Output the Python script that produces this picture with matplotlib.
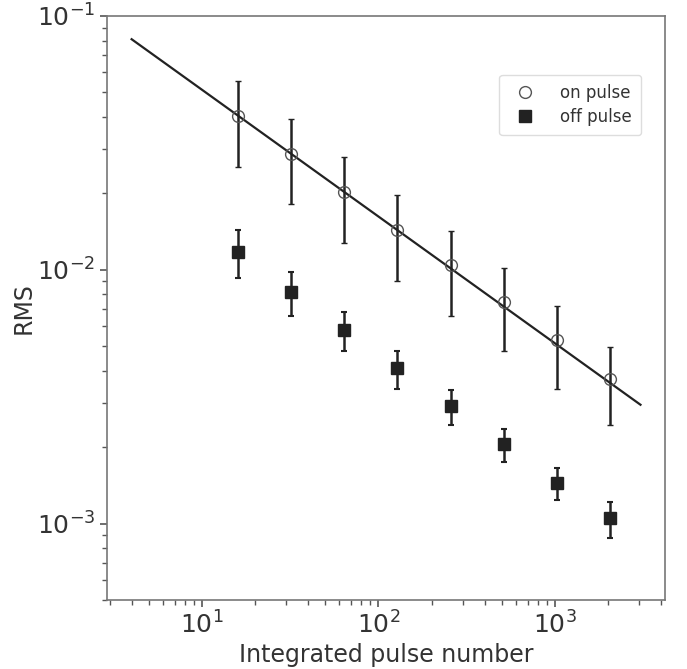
import numpy as np
import matplotlib.pyplot as plt

# integrated pulse numbers
n_pulse = [16, 32, 64, 128, 256, 512, 1024, 2048]

# on pulse RMS and errors
on_rms = [0.0405, 0.0287, 0.0203, 0.0144, 0.0104, 0.0075, 0.0053, 0.0037]
on_err = [0.0150, 0.0105, 0.0075, 0.0054, 0.0038, 0.0027, 0.0019, 0.00125]

# off pulse RMS and errors
off_rms = [0.0118, 0.0082, 0.0058, 0.0041, 0.0029, 0.00205, 0.00145, 0.00105]
off_err = [0.0025, 0.0016, 0.0010, 0.0007, 0.00045, 0.0003, 0.00021, 0.00017]

# fitted line end points
fit_x = [4, 3050]
fit_y = [0.081, 0.00294]

txt = '#333333'
plt.rcParams['font.family'] = 'DejaVu Sans'

fig = plt.figure(figsize=(6.87, 6.69), dpi=100)
ax = fig.add_axes([0.1557, 0.1031, 0.8123, 0.8730])

ax.plot(fit_x, fit_y, color='#222222', lw=1.6, zorder=2)

ax.errorbar(n_pulse, on_rms, yerr=on_err, fmt='o', mfc='none', mec='#555555',
            mew=1.0, ms=8.5, ecolor='#222222', elinewidth=1.8, capsize=2.5,
            capthick=1.5, label='on pulse', zorder=3)
ax.errorbar(n_pulse, off_rms, yerr=off_err, fmt='s', mfc='#222222', mec='#222222',
            ms=8, ecolor='#222222', elinewidth=1.8, capsize=2.5,
            capthick=1.5, label='off pulse', zorder=3)

ax.set_xscale('log')
ax.set_yscale('log')
ax.set_xlim(2.9, 4200)
ax.set_ylim(5e-4, 1e-1)

ax.set_xlabel('Integrated pulse number', fontsize=17, color=txt, labelpad=3)
ax.set_ylabel('RMS', fontsize=17, color=txt, labelpad=1)
ax.tick_params(which='both', colors='#555555', labelcolor=txt, labelsize=18)
ax.tick_params(which='major', length=5, width=1.2)
ax.tick_params(which='minor', length=3.5, width=1.0)
for s in ax.spines.values():
    s.set_color('#777777')
    s.set_linewidth(1.2)

# legend with circle/square handles only
h, l = ax.get_legend_handles_labels()
h = [hh[0] for hh in h]
leg = ax.legend(h, l, loc='upper right', bbox_to_anchor=(0.957, 0.899),
                borderaxespad=0, fontsize=12, handletextpad=1.1,
                labelspacing=0.35, borderpad=0.55,
                labelcolor=txt, edgecolor='#dddddd', framealpha=1)

fig.savefig('out.png', dpi=100)
